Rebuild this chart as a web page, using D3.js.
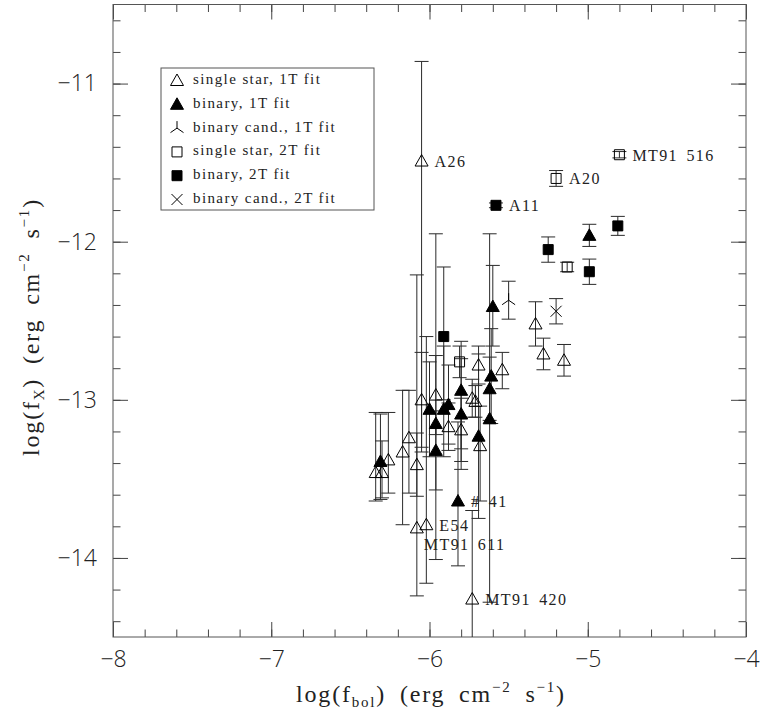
<!DOCTYPE html>
<html>
<head>
<meta charset="utf-8">
<script src="https://cdn.jsdelivr.net/npm/d3@7"></script>
<style>
    body { margin: 0; background: #fff; }
    svg text { fill: #222; }
    .tick-label { font-family: "Open Sans", "DejaVu Sans", sans-serif; font-weight: 300; font-size: 23px; }
    .axis-title { font-family: "Liberation Serif", serif; font-size: 24px; letter-spacing: 1.8px; word-spacing: 6px; }
    .legend-text { font-family: "Liberation Serif", serif; font-size: 15px; letter-spacing: 1.4px; }
    .star-label { font-family: "Liberation Serif", serif; font-size: 16px; letter-spacing: 1.4px; word-spacing: 3px; }
</style>
</head>
<body>
<svg id="chart" width="771" height="716"></svg>
<script>
// log(f_bol) vs log(f_X); up / dn are the error bar lengths in dex
var singleStar1T = [
    {x: -6.05, y: -11.49, up: 0.63, dn: 1.84, name: 'A26'},
    {x: -5.33, y: -12.52, up: 0.14, dn: 0.14},
    {x: -5.28, y: -12.71, up: 0.10, dn: 0.10},
    {x: -5.15, y: -12.75, up: 0.10, dn: 0.10},
    {x: -5.69, y: -12.78, up: 0.12, dn: 0.12},
    {x: -5.54, y: -12.81, up: 0.11, dn: 0.12},
    {x: -6.05, y: -13.00, up: 0.30, dn: 0.30},
    {x: -5.96, y: -12.97, up: 0.25, dn: 0.25},
    {x: -5.73, y: -12.99, up: 0.12, dn: 0.12},
    {x: -5.71, y: -13.01, up: 0.10, dn: 0.10},
    {x: -5.88, y: -13.17, up: 0.15, dn: 0.15},
    {x: -5.80, y: -13.19, up: 0.20, dn: 0.20},
    {x: -5.68, y: -13.29, up: 0.25, dn: 0.35},
    {x: -6.13, y: -13.24, up: 0.30, dn: 0.35},
    {x: -6.17, y: -13.33, up: 0.39, dn: 0.46},
    {x: -6.08, y: -13.41, up: 0.20, dn: 0.20},
    {x: -6.26, y: -13.38, up: 0.30, dn: 0.21},
    {x: -6.34, y: -13.46, up: 0.38, dn: 0.18},
    {x: -6.30, y: -13.46, up: 0.20, dn: 0.16},
    {x: -6.02, y: -13.79, up: 1.19, dn: 0.37, name: 'E54'},
    {x: -6.08, y: -13.81, up: 1.60, dn: 0.43, name: 'MT91 611', below: true},
    {x: -5.73, y: -14.26, up: 0.56, dn: 1.00, name: 'MT91 420'},
];
var binary1T = [
    {x: -4.99, y: -11.96, up: 0.07, dn: 0.07},
    {x: -5.60, y: -12.41, up: 0.26, dn: 0.25},
    {x: -5.61, y: -12.85, up: 0.30, dn: 0.30},
    {x: -5.62, y: -12.93, up: 0.20, dn: 0.20},
    {x: -5.80, y: -12.94, up: 0.31, dn: 0.37},
    {x: -5.88, y: -13.03, up: 0.25, dn: 0.25},
    {x: -6.00, y: -13.06, up: 0.30, dn: 0.30},
    {x: -5.91, y: -13.06, up: 0.40, dn: 0.30},
    {x: -5.80, y: -13.09, up: 0.35, dn: 0.35},
    {x: -5.96, y: -13.15, up: 1.20, dn: 0.86},
    {x: -5.62, y: -13.12, up: 1.17, dn: 1.16},
    {x: -5.69, y: -13.23, up: 0.52, dn: 0.52},
    {x: -5.96, y: -13.32, up: 0.25, dn: 0.25},
    {x: -6.31, y: -13.39, up: 0.30, dn: 0.24},
    {x: -5.82, y: -13.64, up: 0.50, dn: 0.41, name: '# 41'},
];
var binaryCand1T = [
    {x: -5.50, y: -12.37, up: 0.12, dn: 0.12},
];
var singleStar2T = [
    {x: -5.20, y: -11.60, up: 0.05, dn: 0.05, name: 'A20'},
    {x: -4.80, y: -11.45, up: 0.02, dn: 0.02, name: 'MT91 516'},
    {x: -5.13, y: -12.16, up: 0.03, dn: 0.03},
    {x: -5.81, y: -12.76, up: 0.10, dn: 0.10},
];
var binary2T = [
    {x: -5.58, y: -11.77, up: 0.015, dn: 0.015, name: 'A11'},
    {x: -5.25, y: -12.05, up: 0.08, dn: 0.08},
    {x: -4.81, y: -11.90, up: 0.06, dn: 0.06},
    {x: -4.99, y: -12.19, up: 0.08, dn: 0.08},
    {x: -5.91, y: -12.60, up: 0.44, dn: 0.40},
];
var binaryCand2T = [
    {x: -5.20, y: -12.44, up: 0.08, dn: 0.08},
];

var legendLabels = [
    'single star, 1T fit',
    'binary, 1T fit',
    'binary cand., 1T fit',
    'single star, 2T fit',
    'binary, 2T fit',
    'binary cand., 2T fit',
];
var xTicks = [-8, -7, -6, -5, -4];
var yTicks = [-14, -13, -12, -11];

// marker shapes, one per legend entry
var symbols = [
    {d: 'M0,-6.5L6.5,5L-6.5,5Z', fill: 'none'},
    {d: 'M0,-6.5L6.5,5L-6.5,5Z', fill: '#000'},
    {d: 'M0,0V-7M0,0L-6.5,4.5M0,0L6.5,4.5', fill: 'none'},
    {d: 'M-5,-5H5V5H-5Z', fill: 'none'},
    {d: 'M-5,-5H5V5H-5Z', fill: '#000'},
    {d: 'M-5.5,-5.5L5.5,5.5M5.5,-5.5L-5.5,5.5', fill: 'none'},
];
var series = [singleStar1T, binary1T, binaryCand1T, singleStar2T, binary2T, binaryCand2T];

var frame = {left: 113, right: 746, top: 4.5, bottom: 637};
var svg = d3.select('#chart');
var x = d3.scaleLinear().domain([-8, -4]).range([frame.left, frame.right]);
var y = d3.scaleLinear().domain([-14.5, -10.5]).range([frame.bottom, frame.top]);
var fmt = function(d) { return String(d).replace('-', '\u2212'); };

svg.append('defs').append('clipPath').attr('id', 'plotclip')
    .append('rect')
    .attr('x', frame.left).attr('y', frame.top)
    .attr('width', frame.right - frame.left).attr('height', frame.bottom - frame.top);

// ticks on all four sides, pointing inward
function drawAxis(axisFn, scale, translate, majors, minors, withLabels) {
    var gMinor = svg.append('g')
        .attr('transform', translate)
        .call(axisFn(scale).tickValues(minors).tickSize(-7.5).tickFormat(''));
    var gMajor = svg.append('g')
        .attr('transform', translate)
        .call(axisFn(scale).tickValues(majors).tickSize(-15).tickPadding(withLabels ? 14 : 0)
            .tickFormat(withLabels ? fmt : ''));
    [gMinor, gMajor].forEach(function(g) {
        g.select('.domain').remove();
        g.selectAll('line').attr('stroke', '#444').attr('stroke-width', 1);
        g.selectAll('text').attr('class', 'tick-label').attr('fill', '#222');
    });
    return gMajor;
}
var xMinor = d3.range(-8, -3.99, 0.2).map(function(v) { return +v.toFixed(1); });
var yMinor = d3.range(-14.4, -10.49, 0.2).map(function(v) { return +v.toFixed(1); });
drawAxis(d3.axisBottom, x, 'translate(0,' + frame.bottom + ')', xTicks, xMinor, true)
    .selectAll('text').attr('dy', '0.71em');
drawAxis(d3.axisTop, x, 'translate(0,' + frame.top + ')', xTicks, xMinor, false);
drawAxis(d3.axisLeft, y, 'translate(' + frame.left + ',0)', yTicks, yMinor, true)
    .selectAll('text').attr('dx', '-2');
drawAxis(d3.axisRight, y, 'translate(' + frame.right + ',0)', yTicks, yMinor, false);

svg.append('rect')
    .attr('x', frame.left).attr('y', frame.top)
    .attr('width', frame.right - frame.left).attr('height', frame.bottom - frame.top)
    .attr('fill', 'none').attr('stroke', '#555').attr('stroke-width', 1);

// error bars
var plot = svg.append('g').attr('clip-path', 'url(#plotclip)');
series.forEach(function(data) {
    var bars = plot.append('g').selectAll('g').data(data).enter().append('g')
        .attr('stroke', '#2a2a2a').attr('stroke-width', 1).attr('fill', 'none');
    bars.append('line')
        .attr('x1', function(d) { return x(d.x); })
        .attr('x2', function(d) { return x(d.x); })
        .attr('y1', function(d) { return y(d.y + d.up); })
        .attr('y2', function(d) { return y(d.y - d.dn); });
    bars.append('line')
        .attr('x1', function(d) { return x(d.x) - 7; })
        .attr('x2', function(d) { return x(d.x) + 7; })
        .attr('y1', function(d) { return y(d.y + d.up); })
        .attr('y2', function(d) { return y(d.y + d.up); });
    bars.append('line')
        .attr('x1', function(d) { return x(d.x) - 7; })
        .attr('x2', function(d) { return x(d.x) + 7; })
        .attr('y1', function(d) { return y(d.y - d.dn); })
        .attr('y2', function(d) { return y(d.y - d.dn); });
});

// markers
series.forEach(function(data, i) {
    plot.append('g').selectAll('path').data(data).enter().append('path')
        .attr('d', symbols[i].d)
        .attr('transform', function(d) { return 'translate(' + x(d.x) + ',' + y(d.y) + ')'; })
        .attr('fill', symbols[i].fill)
        .attr('stroke', '#000').attr('stroke-width', 1);
});

// star names
var named = [];
series.forEach(function(data) {
    data.forEach(function(d) { if (d.name) named.push(d); });
});
svg.append('g').selectAll('text').data(named).enter().append('text')
    .attr('class', 'star-label')
    .attr('x', function(d) { return x(d.x) + (d.below ? 7 : 13); })
    .attr('y', function(d) { return y(d.y) + (d.below ? 22 : 6); })
    .text(function(d) { return d.name; });

// legend
var legend = svg.append('g');
legend.append('rect')
    .attr('x', 161).attr('y', 68).attr('width', 213).attr('height', 142)
    .attr('fill', '#fff').attr('stroke', '#555').attr('stroke-width', 1);
var rows = legend.selectAll('g.row').data(legendLabels).enter().append('g')
    .attr('class', 'row')
    .attr('transform', function(d, i) { return 'translate(0,' + (84 + i * 23.8) + ')'; });
rows.append('path')
    .attr('d', function(d, i) { return symbols[i].d; })
    .attr('transform', 'translate(177,-3.5)')
    .attr('fill', function(d, i) { return symbols[i].fill; })
    .attr('stroke', '#000').attr('stroke-width', 1);
rows.append('text')
    .attr('class', 'legend-text')
    .attr('x', 193).attr('y', 0)
    .text(function(d) { return d; });

// axis titles
var xt = svg.append('text').attr('class', 'axis-title')
    .attr('text-anchor', 'middle')
    .attr('x', 431).attr('y', 702);
xt.append('tspan').text('log(f');
xt.append('tspan').attr('font-size', '15px').attr('dy', 5).text('bol');
xt.append('tspan').attr('dy', -5).text(') (erg cm');
xt.append('tspan').attr('font-size', '15px').attr('dy', -10).text('\u22122');
xt.append('tspan').attr('dy', 10).text(' s');
xt.append('tspan').attr('font-size', '15px').attr('dy', -10).text('\u22121');
xt.append('tspan').attr('dy', 10).text(')');

var yt = svg.append('text').attr('class', 'axis-title')
    .attr('text-anchor', 'middle')
    .attr('transform', 'translate(39,327) rotate(-90)');
yt.append('tspan').text('log(f');
yt.append('tspan').attr('font-size', '15px').attr('dy', 5).text('X');
yt.append('tspan').attr('dy', -5).text(') (erg cm');
yt.append('tspan').attr('font-size', '15px').attr('dy', -10).text('\u22122');
yt.append('tspan').attr('dy', 10).text(' s');
yt.append('tspan').attr('font-size', '15px').attr('dy', -10).text('\u22121');
yt.append('tspan').attr('dy', 10).text(')');
</script>
</body>
</html>
